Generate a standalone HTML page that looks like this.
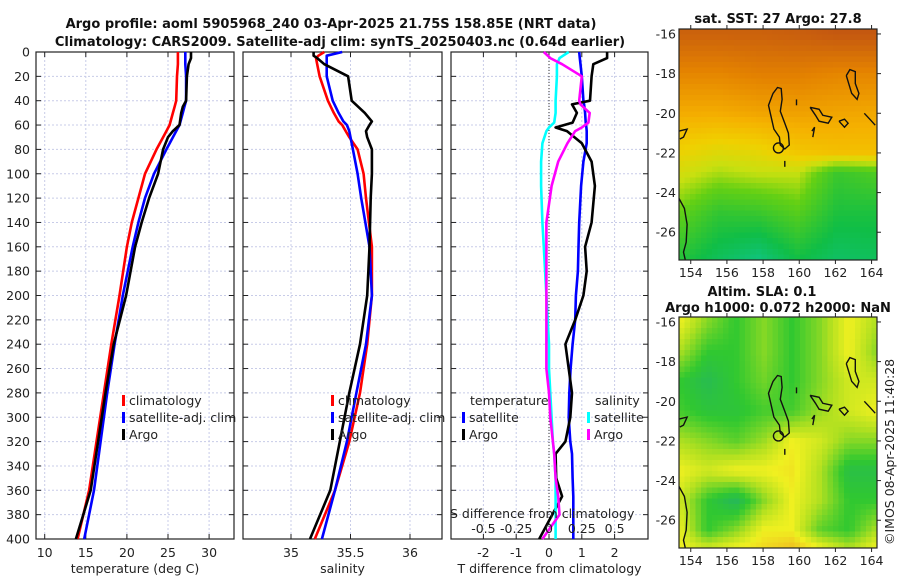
<!DOCTYPE html>
<html><head><meta charset="utf-8">
<style>
html,body{margin:0;padding:0;background:#fff;}
svg{display:block;font-family:"DejaVu Sans","Liberation Sans",sans-serif;}
.t{font-size:12.5px;fill:#222;}
.b{font-weight:bold;font-size:13px;fill:#111;}
</style></head>
<body>
<svg id="fig" width="900" height="580" viewBox="0 0 900 580" xmlns="http://www.w3.org/2000/svg">
<rect width="900" height="580" fill="#fff"/>
<text class="b" x="331" y="28" text-anchor="middle">Argo profile: aoml 5905968_240 03-Apr-2025 21.75S 158.85E (NRT data)</text>
<text class="b" x="340" y="46" text-anchor="middle">Climatology: CARS2009. Satellite-adj clim: synTS_20250403.nc (0.64d earlier)</text>
<g id="p1"></g>
<g id="p2"></g>
<g id="p3"></g>
<g id="m1"></g>
<g id="m2"></g>
<text class="b" x="778" y="23" text-anchor="middle">sat. SST: 27 Argo: 27.8</text>
<text class="b" x="762" y="296" text-anchor="middle">Altim. SLA: 0.1</text>
<text class="b" x="778" y="312" text-anchor="middle">Argo h1000: 0.072 h2000: NaN</text>
<text class="t" transform="translate(894,545) rotate(-90)">©IMOS 08-Apr-2025 11:40:28</text>
</svg>
<script>
// ---------- profile data ----------
const tDepths = [0,5,10,20,40,45,50,60,65,70,80,100,120,140,160,200,240,280,320,360,400];
const tClim =   [26.2,26.2,26.2,26.1,26.0,25.8,25.6,25.2,24.8,24.4,23.6,22.2,21.4,20.6,20.0,19.1,18.1,17.2,16.3,15.4,14.0];
const tSat =    [27.1,27.1,27.1,27.2,27.2,27.0,26.8,26.4,26.0,25.6,24.8,23.3,22.2,21.4,20.7,19.5,18.5,17.6,16.8,16.0,14.8];
const tArgo =   [27.8,27.8,27.5,27.3,27.2,26.8,26.6,26.4,25.6,25.0,24.4,23.8,22.7,21.8,21.0,19.9,18.4,17.4,16.5,15.6,13.8];
const sDepths = [0,3,5,10,20,40,50,57,60,65,70,80,100,120,160,200,240,280,320,360,400];
const sClim =   [35.28,35.23,35.21,35.22,35.24,35.31,35.36,35.40,35.43,35.46,35.49,35.56,35.61,35.63,35.68,35.68,35.64,35.58,35.49,35.37,35.20];
const sSat =    [35.43,35.30,35.30,35.30,35.30,35.35,35.40,35.44,35.47,35.49,35.50,35.52,35.56,35.59,35.66,35.68,35.63,35.55,35.47,35.37,35.26];
const sArgo =   [35.19,35.19,35.22,35.28,35.48,35.51,35.62,35.68,35.66,35.63,35.64,35.68,35.68,35.67,35.66,35.64,35.58,35.49,35.41,35.33,35.16];
const dDepths = [0,5,10,20,40,43,50,58,62,65,75,90,110,140,160,180,200,220,240,260,280,300,320,330,350,365,380,400];
const dTSat =   [0.92,0.94,0.96,1.0,1.05,1.07,1.1,1.12,1.14,1.15,1.15,1.05,0.98,0.92,0.9,0.88,0.82,0.8,0.72,0.66,0.62,0.6,0.65,0.7,0.72,0.74,0.74,0.74];
const dTArgo =  [1.77,1.77,1.35,1.3,1.25,0.7,0.85,0.72,0.2,0.55,1.0,1.3,1.4,1.3,1.1,1.15,1.05,0.8,0.5,0.6,0.7,0.65,0.5,0.2,0.22,0.4,0.1,-0.3];
const dSSat =   [0.15,0.08,0.06,0.06,0.05,0.05,0.05,0.04,0.0,-0.02,-0.05,-0.06,-0.06,-0.05,-0.04,-0.03,-0.02,-0.01,0.0,0.0,0.01,0.02,0.03,0.04,0.05,0.05,0.05,0.05];
const dSArgo =  [-0.04,0.01,0.1,0.25,0.23,0.24,0.31,0.3,0.25,0.2,0.14,0.07,0.02,-0.02,-0.02,-0.02,-0.02,-0.02,-0.02,-0.02,0.0,0.01,0.03,0.04,0.05,0.07,0.08,-0.05];
const depthTicks = [0,20,40,60,80,100,120,140,160,180,200,220,240,260,280,300,320,340,360,380,400];
const tTicks = [10,15,20,25,30];
const sTicks = [35,35.5,36];
const dTicks = [-2,-1,0,1,2];
const dSTickLabels = ['-0.5','-0.25','0','0.25','0.5'];
const dSTickVals = [-0.5,-0.25,0,0.25,0.5];

// ---------- map data (coarse fields, hand-read) ----------
const sstLats = [-16,-18,-20,-22,-23,-25,-27.4];
const sstGrid = [
 [0.97,0.97,0.97,0.98,1.0,1.0],
 [0.86,0.86,0.88,0.88,0.86,0.86],
 [0.76,0.76,0.78,0.79,0.78,0.77],
 [0.64,0.6,0.62,0.68,0.7,0.7],
 [0.58,0.52,0.55,0.55,0.35,0.4],
 [0.45,0.33,0.35,0.42,0.28,0.28],
 [0.3,0.2,0.12,0.25,0.18,0.2]];
const slaLats = [-16,-17.5,-19,-20.5,-22,-23.5,-25,-26.5,-27.4];
const slaGrid = [
 [0.8,0.5,0.3,0.5,0.3,0.5,0.8,0.6],
 [0.6,0.3,0.3,0.5,0.3,0.5,0.8,0.5],
 [0.3,0.15,0.3,0.45,0.3,0.5,0.7,0.7],
 [0.35,0.25,0.25,0.35,0.35,0.55,0.7,0.8],
 [0.6,0.5,0.4,0.55,0.8,0.7,0.5,0.5],
 [0.8,0.7,0.8,0.8,0.85,0.6,0.2,0.2],
 [0.7,0.3,0.1,0.5,0.8,0.6,0.3,0.3],
 [0.8,0.3,0.5,0.8,0.8,0.4,0.3,0.6],
 [0.8,0.7,0.8,0.9,1.0,0.8,0.6,0.8]];
const lonTicks = [154,156,158,160,162,164];
const latTicks = [-16,-18,-20,-22,-24,-26];

const NS='http://www.w3.org/2000/svg';
function mk(tag,attrs,parent){const e=document.createElementNS(NS,tag);for(const k in attrs)e.setAttribute(k,attrs[k]);parent.appendChild(e);return e;}

const Y0=52,Y1=539;
const yD=d=>Y0+(d/400)*(Y1-Y0);

function panel(g,x0,x1,xs,ticks,tickLbl,label,name){
  ticks.forEach(v=>{const l=mk('line',{x1:xs(v),x2:xs(v),y1:Y0,y2:Y1,stroke:'#c8cce8','stroke-dasharray':'2,2','stroke-width':1},g);
    });
  depthTicks.forEach(d=>{const l=mk('line',{x1:x0,x2:x1,y1:yD(d),y2:yD(d),stroke:'#c8cce8','stroke-dasharray':'2,2','stroke-width':1},g);
    });
  const fr=mk('rect',{x:x0,y:Y0,width:x1-x0,height:Y1-Y0,fill:'none',stroke:'#222','stroke-width':1.2},g);
  
  depthTicks.forEach(d=>{mk('line',{x1:x0,x2:x0+5,y1:yD(d),y2:yD(d),stroke:'#222'},g);mk('line',{x1:x1-5,x2:x1,y1:yD(d),y2:yD(d),stroke:'#222'},g);});
  ticks.forEach((v,i)=>{mk('line',{x1:xs(v),x2:xs(v),y1:Y1,y2:Y1-5,stroke:'#222'},g);mk('line',{x1:xs(v),x2:xs(v),y1:Y0,y2:Y0+5,stroke:'#222'},g);
    const t=mk('text',{x:xs(v),y:557,'text-anchor':'middle',class:'t'},g);t.textContent=tickLbl[i];
    });
  const xl=mk('text',{x:(x0+x1)/2,y:573,'text-anchor':'middle',class:'t'},g);xl.textContent=label;
  
}
function line(g,xs,vals,depths,color,name){
  const pts=vals.map((v,i)=>xs(v).toFixed(1)+','+yD(depths[i]).toFixed(1)).join(' ');
  const p=mk('polyline',{points:pts,fill:'none',stroke:color,'stroke-width':2.6,'stroke-linejoin':'round'},g);
  
}
function legend(g,x,y,color,label,name){
  const r=mk('rect',{x:x,y:y-10,width:3,height:11,fill:color},g);
  
  const t=mk('text',{x:x+7,y:y,class:'t'},g);t.textContent=label;
  
}

const p1=document.getElementById('p1');
const xT=v=>44.7+(v-10)*8.22;
panel(p1,36,234,xT,tTicks,tTicks.map(String),'temperature (deg C)','temperature');
depthTicks.forEach(d=>{const t=mk('text',{x:30,y:yD(d)+4.5,'text-anchor':'end',class:'t'},p1);t.textContent=d;
  });
line(p1,xT,tClim,tDepths,'#f00','temp-climatology-line');
line(p1,xT,tSat,tDepths,'#00f','temp-satellite-line');
line(p1,xT,tArgo,tDepths,'#000','temp-argo-line');
legend(p1,122,405,'#f00','climatology','legend-climatology');
legend(p1,122,422,'#00f','satellite-adj. clim','legend-satellite');
legend(p1,122,439,'#000','Argo','legend-argo');

const p2=document.getElementById('p2');
const xS=v=>291+(v-35)*119;
panel(p2,243,442,xS,sTicks,['35','35.5','36'],'salinity','salinity');
line(p2,xS,sClim,sDepths,'#f00','sal-climatology-line');
line(p2,xS,sSat,sDepths,'#00f','sal-satellite-line');
line(p2,xS,sArgo,sDepths,'#000','sal-argo-line');
legend(p2,331,405,'#f00','climatology','legend-climatology-sal');
legend(p2,331,422,'#00f','satellite-adj. clim','legend-satellite-sal');
legend(p2,331,439,'#000','Argo','legend-argo-sal');

const p3=document.getElementById('p3');
const xD=v=>549+v*32.8;
const xDS=v=>549+v*4*32.8;
panel(p3,451,648,xD,dTicks,dTicks.map(String),'T difference from climatology','difference');
const zl=mk('line',{x1:xD(0),x2:xD(0),y1:Y0,y2:Y1,stroke:'#333','stroke-dasharray':'1,2'},p3);

line(p3,xD,dTSat,dDepths,'#00f','dT-satellite-line');
line(p3,xD,dTArgo,dDepths,'#000','dT-argo-line');
line(p3,xDS,dSSat,dDepths,'#0ff','dS-satellite-line');
line(p3,xDS,dSArgo,dDepths,'#f0f','dS-argo-line');
{const t=mk('text',{x:470,y:405,class:'t'},p3);t.textContent='temperature';}
{const t=mk('text',{x:595,y:405,class:'t'},p3);t.textContent='salinity';}
legend(p3,462,422,'#00f','satellite','legend-t-satellite');
legend(p3,462,439,'#000','Argo','legend-t-argo');
legend(p3,587,422,'#0ff','satellite','legend-s-satellite');
legend(p3,587,439,'#f0f','Argo','legend-s-argo');
{const t=mk('text',{x:450,y:518,class:'t'},p3);t.textContent='S difference from climatology';}
dSTickVals.forEach((v,i)=>{const t=mk('text',{x:xDS(v),y:533,'text-anchor':'middle',class:'t'},p3);t.textContent=dSTickLabels[i];
  });

// ---------- maps ----------
function lerpC(stops,v){v=Math.max(0,Math.min(1,v));for(let i=1;i<stops.length;i++){if(v<=stops[i][0]){const a=stops[i-1],b=stops[i],f=(v-a[0])/(b[0]-a[0]);
  return 'rgb('+[0,1,2].map(k=>Math.round(a[1][k]+(b[1][k]-a[1][k])*f)).join(',')+')';}}return 'rgb('+stops[stops.length-1][1].join(',')+')';}
const sstStops=[[0,[16,200,176]],[0.25,[16,190,70]],[0.45,[100,208,20]],[0.55,[200,224,16]],[0.65,[240,208,0]],[0.75,[245,176,0]],[0.87,[228,130,0]],[1,[196,88,16]]];
const slaStops=[[0,[32,176,112]],[0.3,[48,200,48]],[0.6,[176,224,32]],[0.8,[240,240,32]],[1,[240,192,32]]];
const LON0=153.35,LON1=164.3,LAT0=-15.75,LAT1=-27.4;
function field(grid,lats,lon,lat){
  const nc=grid[0].length;let cf=(lon-LON0)/(LON1-LON0)*(nc-1);cf=Math.max(0,Math.min(nc-1.0001,cf));const c=Math.floor(cf),fx=cf-c;
  let r=0;while(r<lats.length-2&&lat<lats[r+1])r++;let fy=(lats[r]-lat)/(lats[r]-lats[r+1]);fy=Math.max(0,Math.min(1,fy));
  const a=grid[r][c]*(1-fx)+grid[r][c+1]*fx,b=grid[r+1][c]*(1-fx)+grid[r+1][c+1]*fx;return a*(1-fy)+b*fy;}
const coast=[
 [[158.55,-19.0],[158.8,-18.7],[159.0,-18.75],[159.05,-19.3],[158.95,-19.9],[159.2,-20.5],[159.4,-21.0],[159.45,-21.6],[159.2,-21.8],[158.95,-21.6],[158.9,-21.2],[158.6,-20.8],[158.45,-20.2],[158.3,-19.6],[158.55,-19.0]],
 [[160.6,-19.7],[161.1,-19.8],[161.3,-20.1],[161.8,-20.2],[161.6,-20.5],[161.1,-20.4],[160.9,-20.1],[160.6,-19.7]],
 [[162.6,-18.1],[162.8,-17.8],[163.1,-17.9],[163.1,-18.5],[163.3,-19.0],[163.2,-19.3],[162.9,-19.0],[162.6,-18.1]],
 [[162.2,-20.4],[162.5,-20.3],[162.7,-20.5],[162.5,-20.7],[162.2,-20.4]],
 [[163.6,-20.0],[163.9,-20.3],[164.2,-20.6]],
 [[153.35,-24.3],[153.65,-24.8],[153.8,-25.6],[153.75,-26.5],[153.6,-27.0],[153.7,-27.4]],
 [[153.35,-20.9],[153.8,-20.8],[153.6,-21.2],[153.4,-21.3]],
 [[160.7,-20.9],[160.85,-20.7],[160.75,-21.2]],
 [[159.2,-22.4],[159.2,-22.7]],[[159.85,-19.3],[159.85,-19.6]]];
function drawMap(id,x0,y0,x1,y1,grid,lats,stops,prefix){
  const g=document.getElementById(id);
  const lx=lon=>x0+(lon-LON0)/(LON1-LON0)*(x1-x0), ly=lat=>y0+(lat-LAT0)/(LAT1-LAT0)*(y1-y0);
  const cs=5.5;
  for(let y=y0;y<y1;y+=cs){for(let x=x0;x<x1;x+=cs){
    const lon=LON0+(x+cs/2-x0)/(x1-x0)*(LON1-LON0),lat=LAT0+(y+cs/2-y0)/(y1-y0)*(LAT1-LAT0);
    mk('rect',{x:x,y:y,width:Math.min(cs,x1-x)+0.3,height:Math.min(cs,y1-y)+0.3,fill:lerpC(stops,field(grid,lats,lon,lat))},g);}}
  coast.forEach(c=>{const p=mk('polyline',{points:c.map(q=>lx(q[0]).toFixed(1)+','+ly(q[1]).toFixed(1)).join(' '),fill:'none',stroke:'#111','stroke-width':1.4},g);
    });
  const ci=mk('circle',{cx:lx(158.85),cy:ly(-21.75),r:5,fill:'none',stroke:'#111','stroke-width':1.4},g);
  
  const fr=mk('rect',{x:x0,y:y0,width:x1-x0,height:y1-y0,fill:'none',stroke:'#222','stroke-width':1.2},g);
  
  lonTicks.forEach(v=>{mk('line',{x1:lx(v),x2:lx(v),y1:y1,y2:y1+4,stroke:'#222'},g);mk('line',{x1:lx(v),x2:lx(v),y1:y0,y2:y0-4,stroke:'#222'},g);
    const t=mk('text',{x:lx(v),y:y1+17,'text-anchor':'middle',class:'t'},g);t.textContent=v;
    });
  latTicks.forEach(v=>{mk('line',{x1:x1,x2:x1+4,y1:ly(v),y2:ly(v),stroke:'#222'},g);
    const t=mk('text',{x:x0-3,y:ly(v)+4.5,'text-anchor':'end',class:'t'},g);t.textContent=v;
    });
}
drawMap('m1',679,29,877,260,sstGrid,sstLats,sstStops,'sst-map');
drawMap('m2',679,317,877,548,slaGrid,slaLats,slaStops,'sla-map');
</script>
</body></html>
